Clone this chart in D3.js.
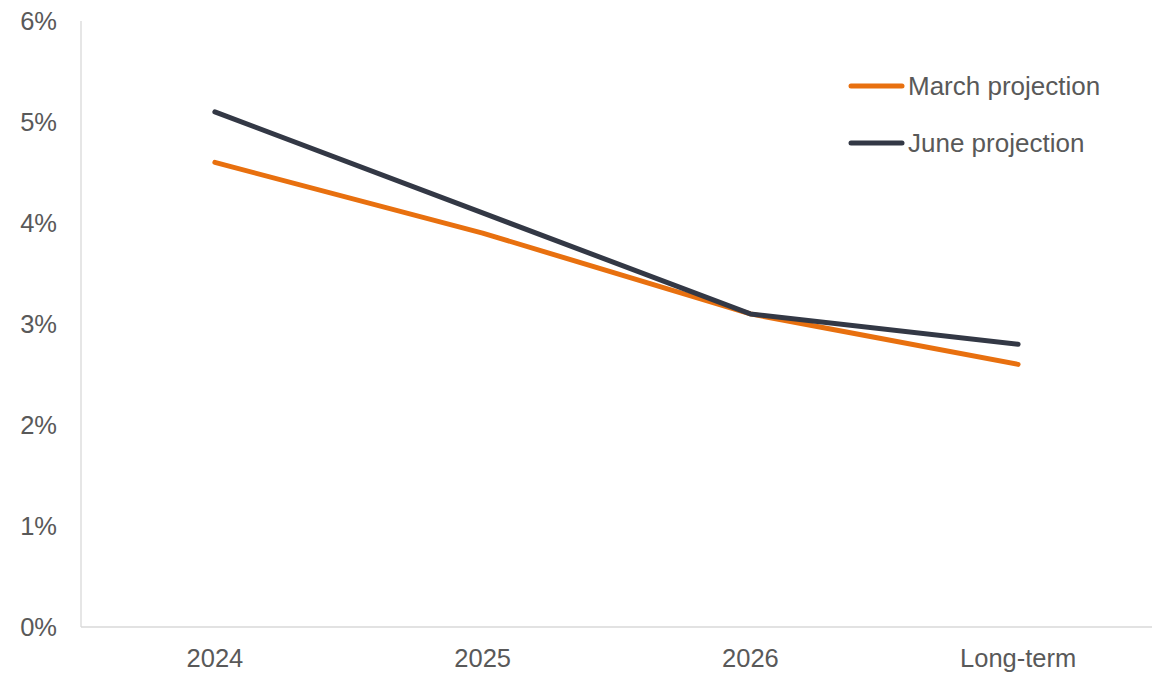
<!DOCTYPE html>
<html><head><meta charset="utf-8">
<script src="https://cdn.jsdelivr.net/npm/d3@7"></script>
<style>body{margin:0;background:#fff}svg{display:block}text{font-family:"Liberation Sans",Arial,sans-serif;fill:#595959}</style>
</head><body><svg id="c" width="1174" height="680"></svg>
<script>
const categories = ["2024","2025","2026","Long-term"];
const seriesNames = ["March projection","June projection"];
const marchValues = [4.6, 3.9, 3.1, 2.6];
const juneValues = [5.1, 4.1, 3.1, 2.8];
const yTicks = [0,1,2,3,4,5,6];
const colors = ["#E8700F","#333845"];

const svg = d3.select("#c");
const x = d3.scaleBand().domain(categories).range([81,1152]);
const y = d3.scaleLinear().domain([0,6]).range([627,21]);

svg.append("line").attr("x1",81).attr("x2",81).attr("y1",y(6)).attr("y2",y(0)).attr("stroke","#d9d9d9").attr("stroke-width",1.3);
svg.append("line").attr("x1",81).attr("x2",1152).attr("y1",y(0)).attr("y2",y(0)).attr("stroke","#d9d9d9").attr("stroke-width",1.3);

const yAxis = d3.axisLeft(y).tickValues(yTicks).tickFormat(d=>d+"%").tickSize(0).tickPadding(24);
const ga = svg.append("g").attr("transform","translate(81,0)").call(yAxis);
ga.select(".domain").remove();
ga.selectAll("text").style("font-size","25.5px").attr("fill","#595959").attr("dy","0.35em");

const xAxis = d3.axisBottom(x).tickSize(0).tickPadding(22);
const gx = svg.append("g").attr("transform",`translate(0,${y(0)})`).call(xAxis);
gx.select(".domain").remove();
gx.selectAll("text").style("font-size","25.5px").attr("fill","#595959").attr("dy","0.71em");

const line = d3.line().x((d,i)=>x(categories[i])+x.bandwidth()/2).y(d=>y(d));
[marchValues, juneValues].forEach((vals,i)=>{
  svg.append("path").datum(vals).attr("d",line).attr("fill","none")
    .attr("stroke",colors[i]).attr("stroke-width",5).attr("stroke-linecap","round").attr("stroke-linejoin","round");
});

const legY = [86,143];
seriesNames.forEach((n,i)=>{
  svg.append("line").attr("x1",851).attr("x2",902).attr("y1",legY[i]).attr("y2",legY[i])
    .attr("stroke",colors[i]).attr("stroke-width",5).attr("stroke-linecap","round");
  svg.append("text").attr("x",908).attr("y",legY[i]).attr("dy","0.35em").style("font-size","26px").text(n);
});
</script></body></html>
